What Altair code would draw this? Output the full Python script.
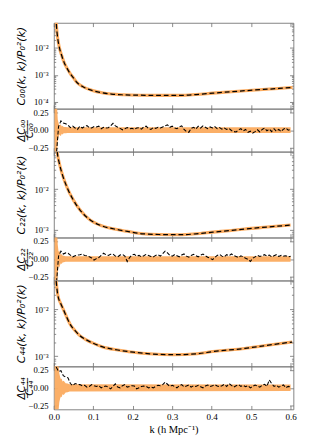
import altair as alt
import pandas as pd

# ---------------- data ----------------
K_MAX = 0.607
X_TICKS = [0.0, 0.1, 0.2, 0.3, 0.4, 0.5, 0.6]
RES_TICKS = [-0.25, 0.0, 0.25]
RES_DOMAIN = [-0.3, 0.3]

# main panels: smooth covariance curves
K_C00 = [0.005, 0.008, 0.010, 0.014, 0.020, 0.026, 0.034, 0.042, 0.050, 0.058, 0.074, 0.098, 0.122,
         0.146, 0.177, 0.218, 0.267, 0.322, 0.360, 0.403, 0.450, 0.484, 0.530, 0.570, 0.605]
C00 = [0.15, 0.040, 0.022, 0.0105, 0.0052, 0.0029, 0.0017, 0.00108, 7.6e-4, 5.3e-4, 3.6e-4, 2.6e-4, 2.15e-4,
       1.92e-4, 1.8e-4, 1.74e-4, 1.72e-4, 1.72e-4, 1.85e-4, 2.08e-4, 2.35e-4, 2.56e-4, 2.85e-4, 3.1e-4, 3.4e-4]

K_C22 = [0.005, 0.0092, 0.0137, 0.0217, 0.0337, 0.050, 0.066, 0.090, 0.122, 0.153, 0.186, 0.226, 0.267,
         0.323, 0.360, 0.403, 0.450, 0.484, 0.540, 0.600]
C22 = [0.2, 0.076, 0.045, 0.023, 0.011, 0.0053, 0.0031, 0.0018, 0.00124, 0.00104, 9.1e-4, 7.9e-4, 7.6e-4,
       7.5e-4, 7.9e-4, 8.7e-4, 9.6e-4, 1.04e-3, 1.16e-3, 1.3e-3]

K_C44 = [0.006, 0.0097, 0.0177, 0.024, 0.0337, 0.042, 0.054, 0.066, 0.082, 0.098, 0.122, 0.162, 0.202,
         0.243, 0.303, 0.363, 0.403, 0.484, 0.532, 0.604]
C44 = [0.040, 0.021, 0.0131, 0.010, 0.0065, 0.0047, 0.0035, 0.00275, 0.00224, 0.00192, 0.0016, 0.00136,
       0.00122, 0.00113, 0.00108, 0.00113, 0.00126, 0.00147, 0.00167, 0.00201]

# residual panels: k bins and fractional differences
K_RES = [0.006, 0.012, 0.018, 0.024, 0.030, 0.036, 0.042, 0.048, 0.054, 0.060,
         0.066, 0.072, 0.078, 0.084, 0.090, 0.096, 0.102, 0.108, 0.114, 0.120,
         0.126, 0.132, 0.138, 0.144, 0.150, 0.156, 0.162, 0.168, 0.174, 0.180,
         0.186, 0.192, 0.198, 0.204, 0.210, 0.216, 0.222, 0.228, 0.234, 0.240,
         0.246, 0.252, 0.258, 0.264, 0.270, 0.276, 0.282, 0.288, 0.294, 0.300,
         0.306, 0.312, 0.318, 0.324, 0.330, 0.336, 0.342, 0.348, 0.354, 0.360,
         0.366, 0.372, 0.378, 0.384, 0.390, 0.396, 0.402, 0.408, 0.414, 0.420,
         0.426, 0.432, 0.438, 0.444, 0.450, 0.456, 0.462, 0.468, 0.474, 0.480,
         0.486, 0.492, 0.498, 0.504, 0.510, 0.516, 0.522, 0.528, 0.534, 0.540,
         0.546, 0.552, 0.558, 0.564, 0.570, 0.576, 0.582, 0.588, 0.594, 0.600]

R00 = [-0.38, 0.05, 0.13, 0.10, 0.09, 0.07, 0.035, 0.055, 0.03, 0.01,
       0.055, 0.03, 0.05, 0.065, 0.035, 0.03, 0.05, 0.045, 0.055, 0.02,
       0.04, 0.03, 0.035, 0.06, 0.095, 0.06, 0.04, 0.025, 0.005, 0.02,
       0.035, 0.02, 0.025, 0.01, 0.03, 0.035, 0.015, 0.045, 0.055, 0.02,
       0.01, 0.035, 0.025, 0.04, 0.03, 0.045, 0.06, 0.075, 0.04, 0.055,
       0.03, 0.02, 0.045, 0.06, 0.01, -0.02, -0.03, 0.025, 0.04, 0.015,
       0.055, 0.03, 0.06, 0.04, 0.02, 0.045, 0.03, 0.05, 0.02, 0.035,
       0.015, 0.03, 0.01, 0.025, -0.005, -0.02, -0.025, 0.005, 0.02, -0.01,
       0.01, -0.03, -0.015, -0.04, -0.02, 0.005, -0.025, 0.01, 0.03, -0.01,
       0.015, -0.02, 0.02, -0.015, 0.01, -0.02, 0.015, 0.03, 0.0, 0.01]

R22 = [-0.40, 0.04, 0.11, 0.07, 0.085, 0.08, 0.055, 0.03, 0.045, 0.055,
       0.06, 0.07, 0.05, 0.045, 0.03, 0.015, -0.015, 0.005, 0.02, 0.05,
       0.08, 0.06, 0.05, 0.065, 0.07, 0.04, 0.03, 0.055, 0.065, 0.04,
       -0.035, 0.02, 0.055, 0.065, 0.04, 0.05, 0.03, 0.045, 0.065, 0.05,
       0.035, 0.03, 0.05, 0.06, 0.04, 0.075, 0.11, 0.085, 0.05, 0.04,
       0.06, 0.045, 0.03, 0.055, 0.07, 0.04, 0.025, 0.05, 0.065, 0.045,
       0.03, 0.055, 0.07, 0.045, 0.025, 0.01, -0.01, 0.02, 0.05, 0.065,
       0.04, 0.03, 0.06, 0.045, 0.07, 0.05, 0.035, 0.02, 0.045, 0.03,
       0.01, -0.005, -0.035, 0.01, 0.03, 0.05, 0.035, 0.045, 0.06, 0.04,
       0.055, 0.03, 0.045, 0.06, 0.035, 0.05, 0.04, 0.045, 0.03, 0.04]

R44 = [0.29, 0.23, 0.24, 0.17, 0.15, 0.14, 0.06, 0.03, 0.06, 0.05,
       0.045, 0.03, 0.035, 0.01, 0.02, 0.045, 0.03, 0.02, 0.03, 0.0,
       0.015, 0.025, 0.01, -0.015, 0.02, 0.055, 0.01, 0.0, 0.03, 0.045,
       0.01, 0.02, 0.03, 0.025, -0.015, 0.0, 0.02, 0.025, 0.02, 0.0,
       0.01, 0.0, 0.02, 0.035, 0.03, 0.045, 0.08, 0.05, 0.02, 0.035,
       0.02, 0.0, 0.03, 0.045, 0.015, 0.025, 0.04, 0.01, 0.03, 0.02,
       0.035, 0.015, 0.0, 0.025, 0.04, 0.02, 0.03, 0.045, 0.025, 0.015,
       0.03, 0.05, 0.02, 0.06, 0.035, 0.01, 0.03, 0.045, 0.02, 0.035,
       0.015, 0.03, 0.0, 0.02, 0.04, 0.025, 0.01, 0.035, 0.05, 0.02,
       0.11, 0.06, 0.02, 0.035, 0.01, 0.025, 0.04, 0.0, 0.02, 0.01]

# orange error band half-widths
K_BAND = [0.002, 0.006, 0.008, 0.010, 0.012, 0.014, 0.016, 0.018, 0.020, 0.022, 0.025, 0.030, 0.035, 0.040, 0.600]
S00 = [0.6, 0.6, 0.35, 0.15, 0.10, 0.06, 0.075, 0.08, 0.05, 0.06, 0.045, 0.045, 0.04, 0.04, 0.04]
S22 = [0.6, 0.6, 0.4, 0.2, 0.1, 0.12, 0.08, 0.06, 0.07, 0.05, 0.045, 0.04, 0.04, 0.04, 0.04]
S44 = [0.7, 0.7, 0.6, 0.45, 0.32, 0.2, 0.15, 0.12, 0.13, 0.09, 0.10, 0.065, 0.06, 0.05, 0.045]

PANELS = [
    dict(k=K_C00, c=C00, dom=[5.5e-5, 0.086], maj=[1e-4, 1e-3, 1e-2],
         title="C₀₀(k, k)/P₀²(k)", r=R00, s=S00, rtitle=["Δ̲C̲₀̲₀̲", "C₀₀"]),
    dict(k=K_C22, c=C22, dom=[6.4e-4, 0.085], maj=[1e-3, 1e-2],
         title="C₂₂(k, k)/P₀²(k)", r=R22, s=S22, rtitle=["Δ̲C̲₂̲₂̲", "C₂₂"]),
    dict(k=K_C44, c=C44, dom=[6.1e-4, 0.041], maj=[1e-3, 1e-2],
         title="C₄₄(k, k)/P₀²(k)", r=R44, s=S44, rtitle=["Δ̲C̲₄̲₄̲", "C₄₄"]),
]

# ---------------- styling ----------------
ORANGE = "#fbab5f"
FRAME = "#808080"
TICK = "#6a6a6a"
SERIF = "Liberation Serif"
SANS = "DejaVu Sans"
W = 251
H_MAIN = 90
H_RES = 45
TITLE_X = -33

LOG_LABELS = ("round(log(datum.value)/LN10) == -2 ? '10⁻²' : "
              "round(log(datum.value)/LN10) == -3 ? '10⁻³' : '10⁻⁴'")
RES_LABELS = "datum.value > 0 ? '0.25' : datum.value < 0 ? '−0.25' : '0.00'"


def minors(dom):
    out = []
    for e in range(-6, 1):
        for m in range(2, 10):
            v = m * 10.0 ** e
            if dom[0] < v < dom[1]:
                out.append(v)
    return out


def common(size):
    return dict(domain=False, grid=False, tickColor=TICK, tickWidth=0.8, tickSize=size,
                offset=-size, labelFlush=False, labelOverlap=False)


def x_axis(orient, labels=False):
    kw = common(4)
    kw.update(orient=orient, values=X_TICKS, labels=labels, title=None)
    if labels:
        kw.update(format=".1f", labelFont=SERIF, labelFontSize=9.5, labelColor="black",
                  labelPadding=3, title="k (h Mpc⁻¹)", titleFont=SERIF, titleFontSize=11,
                  titleFontWeight="normal", titleColor="black", titlePadding=3)
    return alt.Axis(**kw)


def y_left(values, title, expr, fs, lh=None):
    kw = common(4)
    kw.update(orient="left", values=values, labelExpr=expr, labelFont=SERIF, labelFontSize=9,
              labelColor="black", labelPadding=6, title=title, titleFont=SANS, titleFontSize=fs,
              titleFontStyle="italic", titleFontWeight="normal", titleColor="black",
              titleX=TITLE_X, titleBaseline="bottom", titleAngle=270)
    if lh:
        kw.update(titleLineHeight=lh)
    return alt.Axis(**kw)


def y_plain(orient, values, size):
    kw = common(size)
    kw.update(orient=orient, values=values, labels=False, title=None)
    return alt.Axis(**kw)


def xenc(axis, field="k"):
    return alt.X(f"{field}:Q", scale=alt.Scale(domain=[0, K_MAX], nice=False, zero=False), axis=axis)


def main_panel(p):
    df = pd.DataFrame({"k": p["k"], "v": p["c"]})
    sc = alt.Scale(type="log", domain=p["dom"], nice=False)
    mn = minors(p["dom"])
    base = alt.Chart(df)
    orange = base.mark_line(color=ORANGE, strokeWidth=3.2, clip=True, interpolate="monotone").encode(
        x=xenc(x_axis("bottom")),
        y=alt.Y("v:Q", scale=sc, axis=y_left(p["maj"], p["title"], LOG_LABELS, 11.5)))
    black = base.mark_line(color="black", strokeWidth=1.3, strokeDash=[5, 3], clip=True,
                           interpolate="monotone").encode(
        x=xenc(x_axis("top")),
        y=alt.Y("v:Q", scale=sc, axis=y_plain("right", p["maj"], 4)))
    ml = base.mark_line(opacity=0).encode(
        x=xenc(None), y=alt.Y("v:Q", scale=sc, axis=y_plain("left", mn, 2)))
    mr = base.mark_line(opacity=0).encode(
        x=xenc(None), y=alt.Y("v:Q", scale=sc, axis=y_plain("right", mn, 2)))
    return alt.layer(orange, black, ml, mr).resolve_axis(x="independent", y="independent").properties(
        width=W, height=H_MAIN)


def res_panel(p, last):
    line_df = pd.DataFrame({"k": K_RES, "r": p["r"]})
    band_df = pd.DataFrame({"k": K_BAND, "lo": [-v for v in p["s"]], "hi": p["s"]})
    sc = alt.Scale(domain=RES_DOMAIN, nice=False, zero=False)
    band = alt.Chart(band_df).mark_area(color=ORANGE, clip=True, opacity=0.95).encode(
        x=xenc(x_axis("bottom", labels=last)),
        y=alt.Y("lo:Q", scale=sc, axis=y_left(RES_TICKS, p["rtitle"], RES_LABELS, 10.5, 8.5)),
        y2="hi:Q")
    line = alt.Chart(line_df).mark_line(color="black", strokeWidth=1.1, strokeDash=[4, 2],
                                        clip=True).encode(
        x=xenc(x_axis("top")),
        y=alt.Y("r:Q", scale=sc, axis=y_plain("right", RES_TICKS, 4)))
    return alt.layer(band, line).resolve_axis(x="independent", y="independent").properties(
        width=W, height=H_RES)


rows = []
for i, p in enumerate(PANELS):
    rows.append(main_panel(p))
    rows.append(res_panel(p, i == len(PANELS) - 1))

chart = alt.vconcat(*rows, spacing=0, bounds="flush").properties(
    padding={"left": 7, "top": -3, "right": 4, "bottom": 2}
).configure_view(stroke=FRAME, strokeWidth=1)

chart.save("out.html", embed_options={"renderer": "svg", "actions": False})
